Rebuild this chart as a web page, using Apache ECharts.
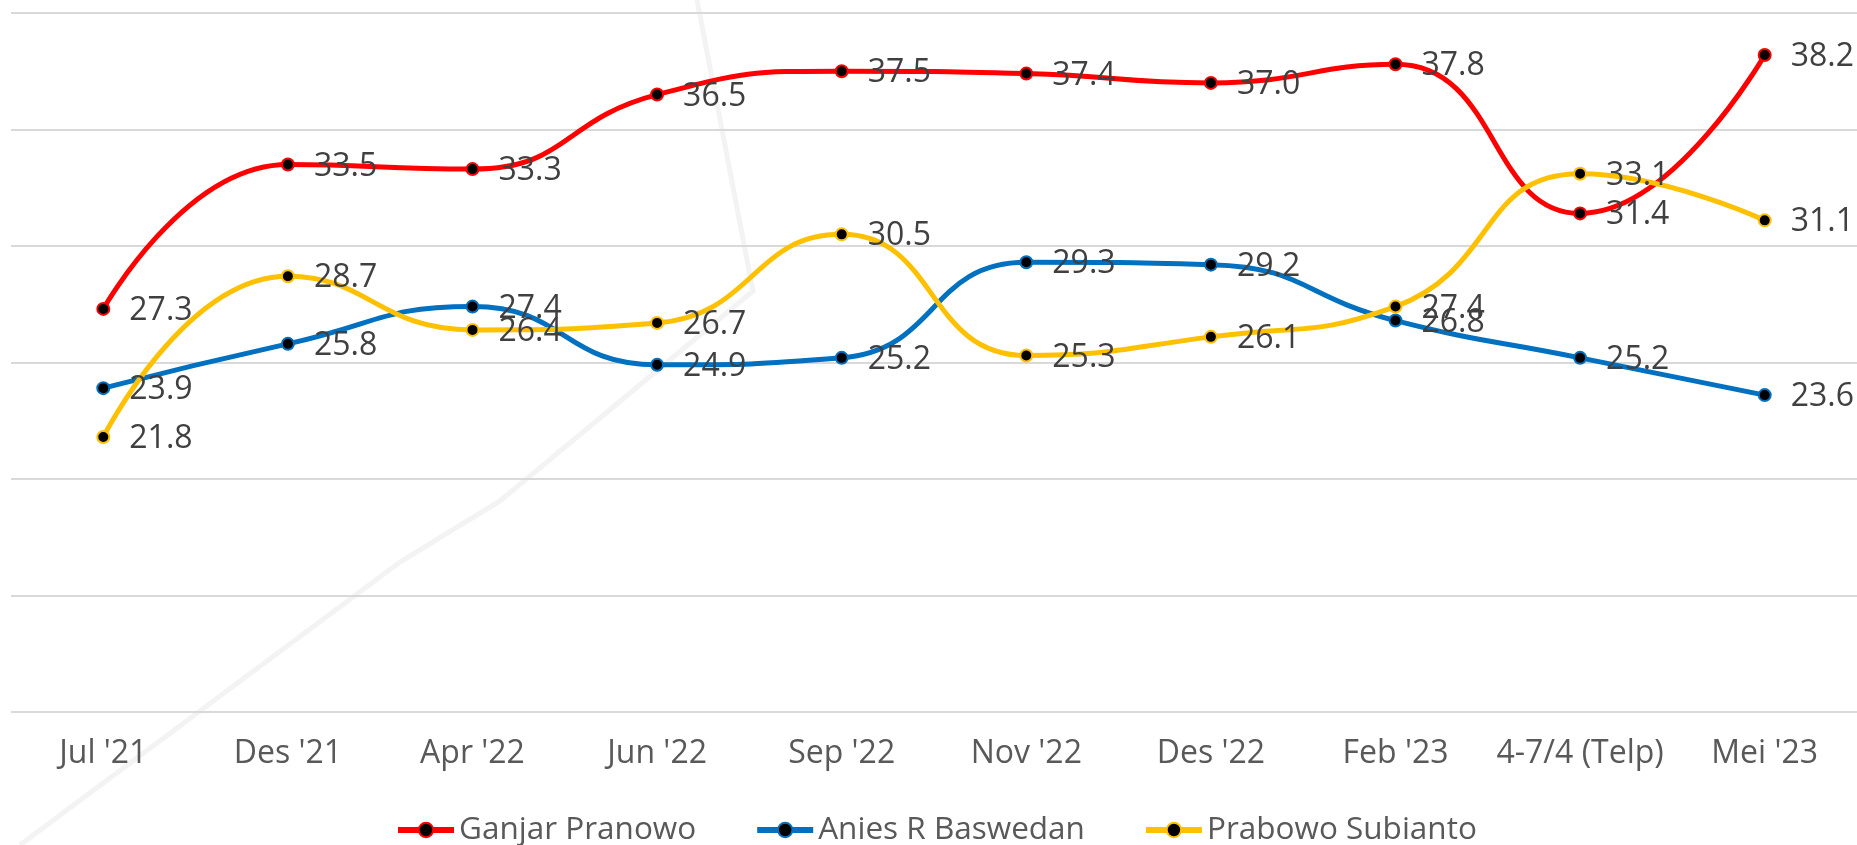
<!DOCTYPE html>
<html>
<head>
<meta charset="utf-8">
<style>
    html, body{ margin: 0; padding: 0; background: #fff;}
    #chart1{ width: 1857px; height: 845px;}
</style>
<script src="https://cdn.jsdelivr.net/npm/echarts@6/dist/echarts.min.js"></script>
</head>
<body>
<div id="chart1"></div>
<script>
    var categories = ["Jul '21", "Des '21", "Apr '22", "Jun '22", "Sep '22", "Nov '22", "Des '22", "Feb '23", "4-7/4 (Telp)", "Mei '23"];
    var ganjar = [27.3, 33.5, 33.3, 36.5, 37.5, 37.4, 37.0, 37.8, 31.4, 38.2];
    var anies = [23.9, 25.8, 27.4, 24.9, 25.2, 29.3, 29.2, 26.8, 25.2, 23.6];
    var prabowo = [21.8, 28.7, 26.4, 26.7, 30.5, 25.3, 26.1, 27.4, 33.1, 31.1];

    var font = '"Open Sans", "Noto Sans", sans-serif';

    function line(name, data, color){
        return {
            name: name,
            type: 'line',
            data: data,
            smooth: 0.5,
            symbol: 'circle',
            symbolSize: 12,
            lineStyle: {color: color, width: 5},
            itemStyle: {color: '#000', borderColor: color, borderWidth: 2},
            label: {
                show: true,
                position: 'right',
                distance: 19,
                offset: [0, 2],
                formatter: function(p){ return p.value.toFixed(1); },
                color: '#404040',
                fontFamily: font,
                fontSize: 32
            },
            z: 3
        };
    }

    var chart = echarts.init(document.getElementById('chart1'));
    chart.setOption({
        animation: false,
        backgroundColor: '#fff',
        textStyle: {fontFamily: font},
        graphic: [{
            type: 'polyline',
            z: -10,
            silent: true,
            shape: {points: [[20, 845], [400, 562], [500, 501], [753, 291], [697, 0]]},
            style: {stroke: '#f3f3f3', lineWidth: 5, fill: null}
        }],
        grid: {left: 11, right: 0, top: 13, bottom: 133},
        legend: {
            left: 390,
            top: 809,
            itemWidth: 56,
            itemHeight: 18,
            itemGap: 58,
            lineStyle: {width: 6},
            textStyle: {color: '#595959', fontFamily: font, fontSize: 31.5},
            data: ['Ganjar Pranowo', 'Anies R Baswedan', 'Prabowo Subianto']
        },
        xAxis: {
            type: 'category',
            data: categories,
            axisLine: {show: false},
            axisTick: {show: false},
            axisLabel: {interval: 0, color: '#595959', fontFamily: font, fontSize: 32, margin: 26}
        },
        yAxis: {
            type: 'value',
            min: 10,
            max: 40,
            interval: 5,
            axisLabel: {show: false},
            axisLine: {show: false},
            axisTick: {show: false},
            splitLine: {lineStyle: {color: '#d9d9d9', width: 2}}
        },
        series: [
            line('Ganjar Pranowo', ganjar, '#ff0000'),
            line('Anies R Baswedan', anies, '#0070c0'),
            line('Prabowo Subianto', prabowo, '#ffc000')
        ]
    });
</script>
</body>
</html>
